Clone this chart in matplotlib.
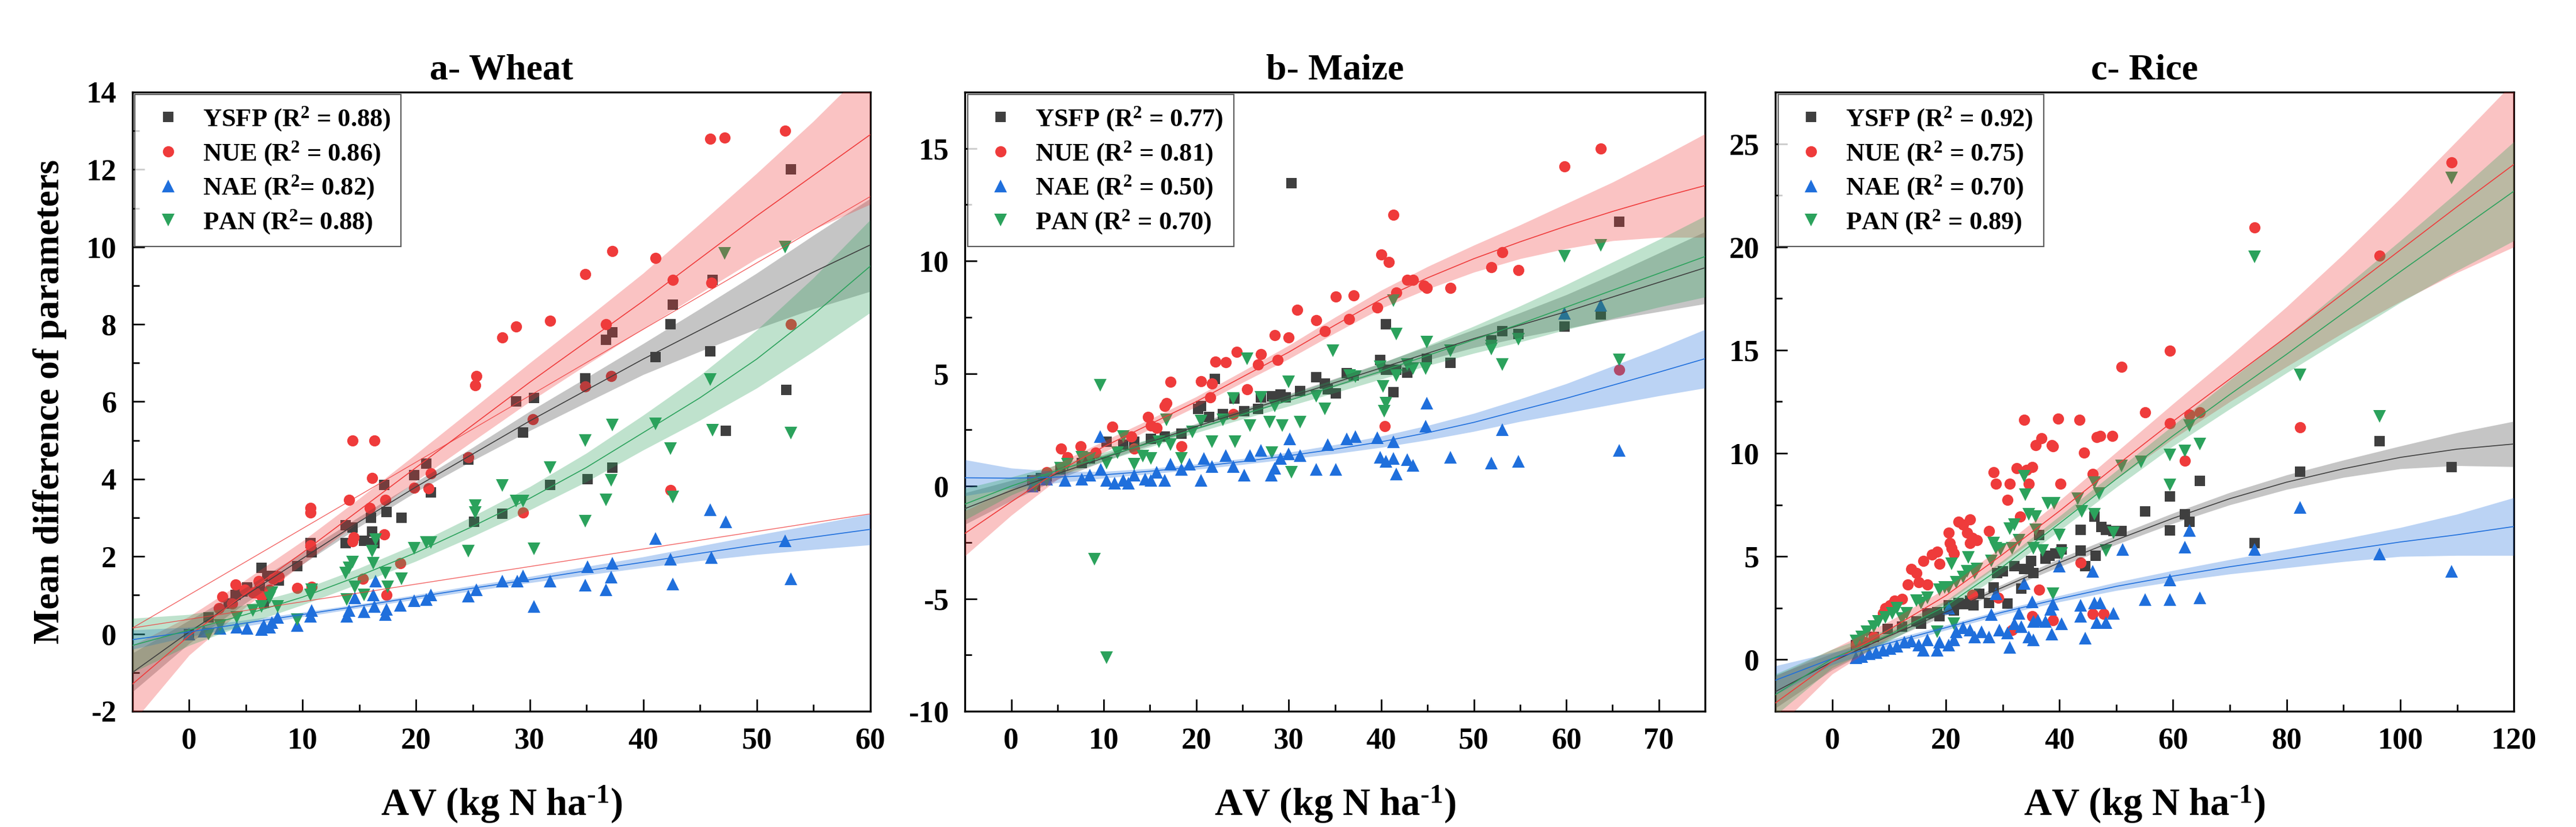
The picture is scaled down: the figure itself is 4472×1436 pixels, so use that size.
"""
Mean difference of parameters against AV for wheat, maize and rice
"""
import matplotlib.pyplot as plt
import numpy as np
from matplotlib.ticker import MultipleLocator

plt.rcParams['font.family'] = ['Liberation Serif', 'DejaVu Serif']
plt.rcParams['font.weight'] = 'bold'
plt.rcParams['mathtext.fontset'] = 'custom'
plt.rcParams['mathtext.rm'] = 'Liberation Serif:bold'
plt.rcParams['mathtext.it'] = 'Liberation Serif:bold'
plt.rcParams['mathtext.bf'] = 'Liberation Serif:bold'
plt.rcParams['axes.unicode_minus'] = False

# ---------------- a- Wheat ----------------
wheat_ysfp_x = [0.0, 1.7, 3.5, 4.1, 4.7, 5.1, 6.2, 6.4, 6.6, 6.9, 7.4, 7.9, 9.5, 10.7, 10.8, 13.8, 13.8, 14.4,
                15.4, 16.0, 16.1, 16.3, 17.2, 17.4, 18.7, 19.8, 20.9, 21.3, 24.6, 25.1, 27.6, 28.8, 29.4, 30.4,
                31.8, 34.9, 35.1, 36.7, 37.3, 37.3, 41.1, 42.4, 42.6, 45.9, 46.1, 47.3, 52.6, 53.0]
wheat_ysfp_y = [0.0, 0.42, 0.79, 1.0, 1.1, 1.2, 1.2, 1.7, 0.8, 1.5, 1.5, 1.38, 1.75, 2.35, 2.1, 2.8, 2.35, 2.75,
                2.4, 3.0, 2.65, 2.35, 3.85, 3.15, 3.0, 4.1, 4.4, 3.65, 4.5, 2.9, 3.1, 6.0, 5.2, 6.1,
                3.85, 6.6, 4.0, 7.6, 7.8, 4.3, 7.15, 8.0, 8.5, 7.3, 9.15, 5.25, 6.3, 12.0]
wheat_nue_x = [2.6, 2.9, 3.8, 4.1, 4.9, 5.6, 5.8, 6.1, 6.4, 7.1, 7.4, 7.9, 9.5, 10.7, 10.7, 10.7, 10.8, 14.1,
               14.4, 14.5, 14.4, 15.3, 16.1, 16.3, 15.9, 17.3, 17.2, 17.4, 18.6, 19.8, 21.1, 21.3, 24.6, 25.2,
               25.3, 27.6, 28.8, 29.4, 30.3, 31.8, 34.9, 34.9, 36.7, 37.2, 37.3, 41.1, 42.4, 42.6, 45.9, 46.0,
               47.2, 52.5, 53.0]
wheat_nue_y = [0.66, 0.96, 0.79, 1.27, 1.14, 1.07, 1.06, 1.36, 0.97, 1.14, 1.43, 1.48, 1.19, 3.26, 3.14, 2.29,
               1.21, 3.46, 5.0, 2.5, 2.39, 1.43, 4.03, 5.0, 3.26, 3.46, 2.57, 1.0, 1.83, 3.77, 3.76, 4.14, 4.57,
               6.43, 6.66, 7.66, 7.94, 3.14, 5.54, 8.09, 9.29, 6.4, 8.0, 6.66, 9.89, 9.71, 3.71, 9.14, 12.79,
               9.07, 12.83, 13.0, 8.0]
wheat_nae_x = [0.0, 1.3, 2.7, 4.2, 5.1, 6.4, 6.6, 7.1, 7.3, 7.8, 9.5, 10.7, 10.8, 13.9, 14.1, 14.6, 15.4, 16.3,
               16.4, 16.2, 17.3, 17.4, 18.6, 19.8, 20.9, 21.3, 24.6, 25.3, 27.6, 28.9, 29.4, 30.4, 31.8, 34.9,
               35.1, 36.7, 37.2, 37.3, 41.1, 42.4, 42.6, 45.9, 46.0, 47.3, 52.5, 53.0]
wheat_nae_y = [0.0, 0.07, 0.14, 0.17, 0.14, 0.11, 0.21, 0.17, 0.29, 0.43, 0.21, 0.46, 0.6, 0.46, 0.6, 0.93,
               0.57, 0.71, 1.36, 1.0, 0.5, 0.64, 0.74, 0.86, 0.89, 1.0, 0.97, 1.14, 1.36, 1.36, 1.5, 0.71,
               1.36, 1.26, 1.74, 1.14, 1.46, 1.83, 2.46, 1.93, 1.29, 3.21, 1.97, 2.9, 2.4, 1.43]
wheat_pan_x = [1.7, 2.7, 4.2, 5.6, 6.4, 7.1, 7.3, 7.8, 9.5, 10.8, 10.7, 13.8, 14.1, 14.4, 13.9, 14.6, 15.4,
               16.1, 16.2, 16.4, 17.3, 17.5, 18.7, 19.8, 20.9, 21.3, 24.6, 25.2, 25.2, 27.6, 28.8, 29.4, 30.4,
               31.8, 34.9, 34.9, 36.7, 37.2, 37.3, 41.1, 42.4, 42.6, 45.9, 46.1, 47.2, 52.5, 53.0]
wheat_pan_y = [0.0, 0.21, 0.43, 0.6, 0.71, 0.93, 1.07, 0.71, 0.36, 1.14, 1.0, 1.57, 1.71, 1.86, 0.89, 1.21,
               1.0, 2.14, 1.83, 2.43, 1.57, 1.21, 1.43, 2.21, 2.36, 2.36, 2.14, 3.31, 3.14, 3.83, 3.43, 3.43,
               2.19, 4.29, 5.0, 2.91, 3.46, 3.97, 5.4, 5.43, 4.79, 3.54, 6.57, 5.26, 9.83, 10.0, 5.19]

# fitted curves and 95% band half-widths
wheat_fit_x = [-5, 0, 5, 10, 15, 20, 25, 30, 35, 40, 45, 50, 55, 60]
wheat_ysfp_fit = [-1.0, 0.05, 1.0, 1.95, 2.9, 3.8, 4.65, 5.5, 6.3, 7.1, 7.85, 8.6, 9.35, 10.05]
wheat_ysfp_ci = [0.5, 0.3, 0.2, 0.15, 0.13, 0.13, 0.17, 0.25, 0.32, 0.4, 0.55, 0.72, 0.95, 1.2]
wheat_nue_fit = [-1.3, -0.05, 1.05, 2.1, 3.2, 4.3, 5.4, 6.5, 7.55, 8.6, 9.7, 10.8, 11.85, 12.9]
wheat_nue_ci = [1.0, 0.5, 0.35, 0.3, 0.3, 0.35, 0.42, 0.5, 0.6, 0.72, 0.9, 1.1, 1.4, 1.8]
wheat_nae_fit = [-0.15, 0.05, 0.28, 0.5, 0.72, 0.95, 1.18, 1.4, 1.63, 1.85, 2.08, 2.3, 2.5, 2.7]
wheat_nae_ci = [0.25, 0.12, 0.08, 0.06, 0.05, 0.06, 0.07, 0.08, 0.11, 0.14, 0.19, 0.25, 0.32, 0.4]
wheat_pan_fit = [-0.3, 0.1, 0.5, 0.95, 1.5, 2.1, 2.78, 3.5, 4.3, 5.2, 6.1, 7.1, 8.25, 9.5]
wheat_pan_ci = [0.7, 0.4, 0.25, 0.2, 0.2, 0.22, 0.26, 0.3, 0.37, 0.45, 0.58, 0.75, 0.95, 1.2]
# two thin red reference lines drawn in panel a
wheat_ref_x = [-5, 60]
wheat_ref1_y = [0.15, 3.1]
wheat_ref2_y = [0.15, 11.3]

# ---------------- b- Maize ----------------
maize_ysfp_x = [2.3, 2.6, 3.2, 3.8, 5.3, 7.6, 8.5, 10.3, 12.1, 13.3, 15.1, 16.6, 18.4, 20.2, 20.5, 22.0, 21.4,
                22.9, 24.1, 25.2, 26.7, 27.0, 28.2, 29.1, 29.7, 30.3, 31.2, 33.0, 33.9, 34.2, 35.1, 36.3, 37.0,
                39.9, 40.5, 40.5, 41.3, 41.6, 42.8, 44.9, 47.5, 51.9, 53.1, 54.8, 59.8, 63.7, 65.7]
maize_ysfp_y = [0.25, 0.0, 0.37, 0.44, 0.74, 1.03, 1.23, 1.97, 1.84, 1.97, 2.09, 2.21, 2.34, 3.44, 3.57, 4.77,
                3.07, 3.2, 3.88, 3.32, 3.44, 3.93, 3.98, 4.06, 3.93, 13.47, 4.23, 4.84, 4.55, 4.3, 4.13, 5.02,
                4.92, 5.61, 7.2, 5.16, 4.18, 5.16, 5.04, 5.66, 5.48, 6.47, 6.88, 6.76, 7.08, 7.62, 11.75]
maize_nue_x = [2.3, 3.8, 5.4, 6.1, 7.5, 9.1, 10.9, 13.0, 13.3, 14.8, 15.1, 15.7, 16.6, 16.8, 17.2, 18.4, 20.5,
               21.5, 21.7, 22.1, 23.2, 24.0, 24.4, 25.5, 26.7, 27.0, 28.5, 28.8, 30.0, 30.9, 33.0, 33.9, 35.1,
               36.5, 37.0, 39.6, 40.0, 40.8, 40.4, 41.3, 41.6, 42.8, 43.4, 44.6, 44.9, 47.5, 51.9, 53.1, 54.8,
               59.8, 63.7, 65.7]
maize_nue_y = [0.25, 0.61, 1.67, 1.28, 1.77, 1.48, 2.63, 2.21, 1.67, 3.07, 2.7, 2.58, 3.57, 3.69, 4.62, 1.77,
               4.67, 3.93, 4.55, 5.53, 5.51, 3.2, 5.95, 4.3, 5.41, 5.85, 6.71, 5.61, 6.59, 7.82, 7.38, 6.88,
               8.41, 7.43, 8.48, 7.92, 10.28, 9.96, 2.66, 12.05, 8.6, 9.15, 9.15, 8.9, 8.8, 8.8, 9.71, 10.38,
               9.59, 14.21, 15.0, 5.16]
maize_nae_x = [2.3, 3.8, 5.8, 7.6, 8.5, 9.6, 9.7, 10.3, 11.2, 12.1, 12.7, 13.3, 14.5, 15.1, 15.7, 16.6, 17.2,
               18.4, 19.3, 20.5, 20.8, 21.7, 23.2, 24.0, 25.2, 25.8, 27.0, 28.1, 28.5, 29.1, 30.0, 30.1, 31.2,
               33.0, 34.2, 35.1, 36.3, 37.2, 39.6, 39.9, 40.5, 41.3, 41.3, 41.6, 42.8, 43.4, 44.9, 44.8, 47.5,
               51.9, 53.1, 54.8, 59.8, 63.7, 65.7]
maize_nae_y = [0.0, 0.3, 0.25, 0.3, 0.49, 2.21, 0.74, 0.25, 0.12, 0.25, 0.12, 0.49, 0.3, 0.25, 0.61, 0.25,
               0.98, 0.74, 0.98, 0.25, 1.23, 0.86, 1.35, 0.86, 0.49, 1.35, 1.6, 0.49, 0.79, 1.23, 1.43, 2.09,
               1.35, 0.74, 1.84, 0.74, 2.09, 2.21, 2.16, 1.28, 1.11, 1.23, 1.97, 0.54, 1.18, 0.93, 3.69, 2.66,
               1.28, 1.03, 2.51, 1.11, 7.67, 8.04, 1.6]
maize_pan_x = [2.6, 3.8, 5.3, 6.1, 7.6, 8.5, 9.0, 9.6, 10.3, 10.3, 11.5, 12.1, 13.3, 14.2, 15.1, 16.0, 16.8,
               17.2, 18.4, 19.6, 20.5, 21.7, 22.9, 24.0, 24.2, 25.5, 25.8, 27.0, 27.9, 28.2, 28.5, 29.3, 30.0,
               30.3, 31.2, 33.0, 33.9, 34.8, 36.6, 37.2, 39.9, 40.2, 40.3, 40.5, 41.3, 41.6, 41.6, 42.8, 43.4,
               44.9, 44.8, 47.5, 51.9, 51.9, 53.1, 54.8, 59.8, 63.7, 65.7]
maize_pan_y = [0.0, 0.25, 0.79, 0.98, 1.28, 1.23, -3.25, 4.47, -7.62, 1.03, 1.48, 2.21, 0.98, 1.33, 1.23,
               1.97, 2.95, 1.84, 1.23, 2.41, 2.9, 1.97, 2.95, 3.88, 1.97, 5.66, 2.7, 3.93, 2.83, 1.48, 3.57,
               2.7, 4.62, 0.61, 2.83, 3.98, 3.44, 6.02, 4.92, 4.87, 5.29, 4.43, 3.32, 3.69, 8.24, 6.76, 4.92,
               5.41, 5.21, 6.39, 5.21, 6.02, 6.22, 6.1, 5.41, 6.52, 10.2, 10.7, 5.61]

maize_fit_x = [-5, 0, 5, 10, 15, 20, 25, 30, 35, 40, 45, 50, 55, 60, 65, 70, 75]
maize_ysfp_fit = [-1.0, -0.2, 0.55, 1.25, 1.95, 2.65, 3.3, 3.95, 4.6, 5.25, 5.9, 6.55, 7.15, 7.75, 8.4, 9.05, 9.7]
maize_ysfp_ci = [0.7, 0.45, 0.25, 0.15, 0.13, 0.13, 0.14, 0.15, 0.18, 0.22, 0.3, 0.4, 0.55, 0.75, 1.0, 1.3, 1.6]
maize_nue_fit = [-2.1, -0.7, 0.65, 1.75, 2.75, 3.75, 4.85, 5.95, 7.15, 8.3, 9.25, 10.1, 10.85, 11.55, 12.2,
                 12.8, 13.35]
maize_nue_ci = [1.0, 0.6, 0.35, 0.25, 0.22, 0.22, 0.25, 0.3, 0.35, 0.4, 0.5, 0.6, 0.75, 1.0, 1.3, 1.75, 2.3]
maize_nae_fit = [0.37, 0.35, 0.4, 0.5, 0.66, 0.86, 1.09, 1.35, 1.64, 1.97, 2.37, 2.83, 3.37, 3.9, 4.48, 5.06,
                 5.66]
maize_nae_ci = [0.8, 0.45, 0.25, 0.15, 0.12, 0.12, 0.13, 0.15, 0.2, 0.25, 0.32, 0.4, 0.5, 0.65, 0.85, 1.05, 1.3]
maize_pan_fit = [-0.8, 0.0, 0.7, 1.3, 1.92, 2.55, 3.18, 3.8, 4.45, 5.1, 5.8, 6.5, 7.2, 7.95, 8.7, 9.45, 10.2]
maize_pan_ci = [0.7, 0.4, 0.25, 0.2, 0.18, 0.18, 0.2, 0.25, 0.3, 0.35, 0.45, 0.6, 0.8, 1.0, 1.25, 1.5, 1.8]

# ---------------- c- Rice ----------------
rice_ysfp_x = [4.2, 4.8, 7.3, 9.8, 12.3, 14.8, 15.6, 16.8, 18.5, 18.9, 20.5, 21.4, 22.2, 23.0, 24.3, 24.9, 25.9,
               27.6, 28.4, 29.0, 30.0, 30.9, 32.1, 33.3, 33.8, 34.6, 35.0, 35.4, 36.4, 37.5, 38.3, 39.3, 40.4,
               43.7, 43.7, 44.5, 46.2, 46.4, 47.4, 48.2, 49.5, 50.9, 55.1, 59.4, 59.4, 62.1, 62.9, 64.7, 74.4,
               82.4, 96.4, 109.0]
rice_ysfp_y = [0.72, 0.85, 1.1, 1.48, 1.6, 1.86, 1.73, 2.24, 2.3, 2.11, 2.62, 2.37, 2.75, 2.68, 2.87, 2.62, 3.19,
               2.75, 3.51, 4.2, 4.27, 2.72, 4.52, 3.44, 4.39, 4.39, 4.77, 4.2, 6.04, 4.9, 5.03, 5.15, 5.34,
               6.29, 5.28, 4.52, 6.92, 5.03, 6.42, 6.29, 6.23, 6.23, 7.18, 7.92, 6.27, 7.04, 6.67, 8.67, 5.66,
               9.12, 10.59, 9.34]
rice_nue_x = [4.2, 5.7, 7.3, 9.0, 9.4, 10.2, 11.0, 12.3, 13.3, 13.9, 14.8, 15.2, 16.0, 16.8, 17.6, 18.5, 18.9,
              20.5, 20.7, 21.0, 21.4, 22.2, 23.0, 24.3, 23.8, 24.7, 24.3, 25.5, 24.7, 27.6, 28.4, 28.8, 29.2,
              30.9, 31.3, 31.7, 32.5, 33.1, 33.8, 34.2, 34.6, 35.2, 35.2, 35.8, 36.4, 36.8, 38.7, 38.9, 39.8,
              38.9, 40.2, 43.5, 43.7, 44.3, 45.9, 45.9, 46.6, 47.2, 47.8, 49.3, 50.9, 55.1, 59.4, 59.4, 62.1,
              62.9, 64.7, 74.4, 82.4, 96.4, 109.0]
rice_nue_y = [0.72, 0.85, 1.1, 2.24, 2.49, 2.62, 2.87, 2.94, 3.63, 4.39, 4.2, 3.76, 4.77, 3.63, 5.09, 5.22, 4.65,
              6.16, 5.66, 5.41, 5.15, 6.67, 6.54, 6.8, 6.16, 5.91, 5.66, 5.78, 3.13, 6.23, 9.08, 8.51, 3.0,
              7.75, 8.51, 1.42, 9.27, 6.92, 11.61, 9.2, 8.51, 9.33, 2.11, 10.4, 3.39, 10.72, 10.4, 10.34, 11.67,
              1.92, 8.51, 11.61, 4.71, 10.03, 9.01, 2.22, 10.78, 10.85, 2.22, 10.85, 14.19, 11.98, 14.97, 11.45,
              9.63, 11.87, 11.98, 20.94, 11.26, 19.58, 24.09]
rice_nae_x = [4.2, 5.2, 6.5, 7.7, 9.0, 10.2, 11.4, 12.7, 13.9, 15.2, 16.0, 16.8, 18.5, 18.9, 20.5, 20.5, 21.4,
              21.8, 23.0, 24.3, 25.1, 26.3, 27.6, 28.0, 28.8, 29.4, 30.9, 31.3, 32.1, 32.9, 33.3, 33.8, 34.6,
              35.4, 35.2, 35.4, 36.2, 37.5, 38.5, 38.7, 38.9, 40.0, 40.4, 43.7, 43.7, 44.5, 45.9, 46.2, 46.6,
              47.2, 48.2, 49.5, 51.1, 55.1, 59.4, 59.4, 62.1, 62.9, 64.7, 74.4, 82.4, 96.4, 109.0]
rice_nae_y = [0.09, 0.15, 0.28, 0.34, 0.47, 0.53, 0.66, 0.85, 0.91, 0.72, 0.47, 0.97, 0.47, 0.85, 2.49, 0.72,
              0.97, 1.35, 1.54, 1.42, 1.1, 1.35, 1.1, 2.18, 3.19, 1.42, 1.29, 0.59, 1.73, 2.24, 1.61, 3.7, 1.1,
              0.97, 2.81, 1.86, 1.92, 1.86, 2.43, 1.23, 2.68, 4.52, 1.73, 2.62, 2.11, 1.04, 4.27, 2.75, 1.8,
              2.75, 1.8, 2.24, 5.34, 2.91, 3.87, 2.91, 5.44, 6.27, 2.99, 5.34, 7.39, 5.12, 4.27]
rice_pan_x = [4.2, 5.2, 6.1, 7.3, 8.1, 9.4, 10.6, 11.4, 12.3, 13.1, 14.8, 15.6, 16.8, 18.5, 18.9, 19.8, 20.5,
              21.0, 21.4, 21.8, 23.0, 23.8, 24.0, 25.1, 25.5, 28.0, 28.4, 28.8, 29.6, 31.3, 31.7, 32.1, 32.9,
              33.8, 34.0, 34.6, 35.4, 35.8, 35.8, 37.0, 37.9, 39.1, 38.9, 40.0, 40.4, 43.2, 43.9, 46.2, 46.2,
              47.0, 48.2, 49.5, 50.9, 54.4, 59.4, 59.4, 62.1, 62.9, 64.7, 74.4, 82.4, 96.4, 109.0]
rice_pan_y = [0.91, 1.1, 1.35, 1.61, 1.86, 2.05, 2.24, 2.49, 1.99, 2.24, 2.87, 2.75, 3.0, 1.35, 3.38, 3.51, 3.51,
              4.65, 1.73, 3.76, 4.01, 4.27, 4.96, 4.2, 4.39, 4.77, 5.66, 5.41, 5.34, 6.35, 5.41, 6.54, 5.78,
              8.89, 8.0, 7.05, 5.41, 6.29, 6.92, 5.28, 7.56, 7.56, 3.19, 6.04, 5.15, 7.81, 7.18, 8.57, 7.05,
              8.06, 5.28, 6.16, 9.39, 9.58, 8.46, 9.93, 10.11, 11.34, 10.46, 19.53, 13.79, 11.79, 23.35]

rice_fit_x = [-10, 0, 10, 20, 30, 40, 50, 60, 70, 80, 90, 100, 110, 120]
rice_ysfp_fit = [-1.55, -0.1, 1.15, 2.3, 3.5, 4.7, 5.8, 6.85, 7.8, 8.6, 9.25, 9.8, 10.2, 10.45]
rice_ysfp_ci = [0.8, 0.4, 0.2, 0.15, 0.15, 0.2, 0.22, 0.25, 0.3, 0.35, 0.42, 0.55, 0.8, 1.1]
rice_nue_fit = [-2.1, -0.1, 1.45, 3.1, 5.1, 7.2, 9.4, 11.55, 13.6, 15.65, 17.75, 19.85, 21.95, 24.0]
rice_nue_ci = [1.3, 0.6, 0.4, 0.35, 0.4, 0.5, 0.65, 0.85, 1.1, 1.45, 1.9, 2.5, 3.2, 4.0]
rice_nae_fit = [-1.0, 0.05, 0.8, 1.55, 2.3, 2.95, 3.55, 4.05, 4.5, 4.9, 5.3, 5.7, 6.05, 6.45]
rice_nae_ci = [0.7, 0.3, 0.15, 0.12, 0.12, 0.15, 0.2, 0.27, 0.35, 0.45, 0.55, 0.7, 1.0, 1.4]
rice_pan_fit = [-1.7, 0.05, 1.2, 2.6, 4.5, 6.6, 8.75, 10.85, 12.85, 14.8, 16.8, 18.8, 20.75, 22.7]
rice_pan_ci = [1.0, 0.45, 0.3, 0.25, 0.3, 0.35, 0.4, 0.5, 0.7, 0.9, 1.2, 1.5, 1.9, 2.4]

names = ['YSFP', 'NUE', 'NAE', 'PAN']
colors = ['#3f3f3f', '#ef3b3b', '#1f6fdc', '#2ba25c']
markers = ['s', 'o', '^', 'v']
msizes = [6.2, 7.0, 7.8, 7.8]

wheat_labels = ['YSFP (R$^2$ = 0.88)', 'NUE (R$^2$ = 0.86)', 'NAE (R$^2$= 0.82)', 'PAN (R$^2$= 0.88)']
maize_labels = ['YSFP (R$^2$ = 0.77)', 'NUE (R$^2$ = 0.81)', 'NAE (R$^2$ = 0.50)', 'PAN (R$^2$ = 0.70)']
rice_labels = ['YSFP (R$^2$ = 0.92)', 'NUE (R$^2$ = 0.75)', 'NAE (R$^2$ = 0.70)', 'PAN (R$^2$ = 0.89)']

panels = [
    dict(title='a- Wheat', labels=wheat_labels, fx=wheat_fit_x,
         pts=[(wheat_ysfp_x, wheat_ysfp_y), (wheat_nue_x, wheat_nue_y),
              (wheat_nae_x, wheat_nae_y), (wheat_pan_x, wheat_pan_y)],
         fits=[(wheat_ysfp_fit, wheat_ysfp_ci), (wheat_nue_fit, wheat_nue_ci),
               (wheat_nae_fit, wheat_nae_ci), (wheat_pan_fit, wheat_pan_ci)],
         xlim=(-5, 60), ylim=(-2, 14), xmaj=10, xmin=5, ymaj=2, ymin=1),
    dict(title='b- Maize', labels=maize_labels, fx=maize_fit_x,
         pts=[(maize_ysfp_x, maize_ysfp_y), (maize_nue_x, maize_nue_y),
              (maize_nae_x, maize_nae_y), (maize_pan_x, maize_pan_y)],
         fits=[(maize_ysfp_fit, maize_ysfp_ci), (maize_nue_fit, maize_nue_ci),
               (maize_nae_fit, maize_nae_ci), (maize_pan_fit, maize_pan_ci)],
         xlim=(-5, 75), ylim=(-10, 17.5), xmaj=10, xmin=5, ymaj=5, ymin=2.5),
    dict(title='c- Rice', labels=rice_labels, fx=rice_fit_x,
         pts=[(rice_ysfp_x, rice_ysfp_y), (rice_nue_x, rice_nue_y),
              (rice_nae_x, rice_nae_y), (rice_pan_x, rice_pan_y)],
         fits=[(rice_ysfp_fit, rice_ysfp_ci), (rice_nue_fit, rice_nue_ci),
               (rice_nae_fit, rice_nae_ci), (rice_pan_fit, rice_pan_ci)],
         xlim=(-10, 120), ylim=(-2.5, 27.5), xmaj=20, xmin=10, ymaj=5, ymin=2.5),
]

lefts = [0.0514, 0.3746, 0.6892]
widths = [0.2864, 0.2873, 0.2867]

fig = plt.figure(figsize=(22.36, 7.18), dpi=200)

for k, p in enumerate(panels):
    ax = fig.add_axes([lefts[k], 0.140, widths[k], 0.7486])
    for i in range(4):
        px, py = p['pts'][i]
        ax.plot(px, py, linestyle='none', marker=markers[i], ms=msizes[i], color=colors[i],
                mew=0, label=p['labels'][i], zorder=2)
    fx = np.array(p['fx'])
    for i in range(4):
        fy = np.array(p['fits'][i][0])
        ci = np.array(p['fits'][i][1])
        ax.fill_between(fx, fy - ci, fy + ci, color=colors[i], alpha=0.3, lw=0, zorder=3)
        ax.plot(fx, fy, color=colors[i], lw=0.6, zorder=4)
    if k == 0:
        ax.plot(wheat_ref_x, wheat_ref1_y, color=colors[1], lw=0.5, alpha=0.8, zorder=4)
        ax.plot(wheat_ref_x, wheat_ref2_y, color=colors[1], lw=0.5, alpha=0.8, zorder=4)
        ax.set_ylabel('Mean difference of parameters', fontsize=23, fontweight='bold', labelpad=12)

    ax.set_xlim(p['xlim'])
    ax.set_ylim(p['ylim'])
    ax.xaxis.set_major_locator(MultipleLocator(p['xmaj']))
    ax.xaxis.set_minor_locator(MultipleLocator(p['xmin']))
    ax.yaxis.set_major_locator(MultipleLocator(p['ymaj']))
    ax.yaxis.set_minor_locator(MultipleLocator(p['ymin']))
    ax.tick_params(which='both', direction='in', width=1.0, top=False, right=False)
    ax.tick_params(which='major', length=7.5, labelsize=19, pad=10)
    ax.tick_params(which='minor', length=4.2)
    for sp in ax.spines.values():
        sp.set_linewidth(1.2)
    ax.set_title(p['title'], fontsize=23, fontweight='bold', pad=8)
    ax.set_xlabel(r'AV (kg N ha$^{\text{-1}}$)', fontsize=24, fontweight='bold', labelpad=18)
    leg = ax.legend(loc='upper left', fontsize=16, frameon=True, fancybox=False,
                    borderaxespad=0.1, handlelength=1.8, handletextpad=0.45,
                    labelspacing=0.25, borderpad=0.4)
    leg.get_frame().set_edgecolor('#333333')
    leg.get_frame().set_linewidth(0.8)

fig.savefig('out.png', dpi=200)
